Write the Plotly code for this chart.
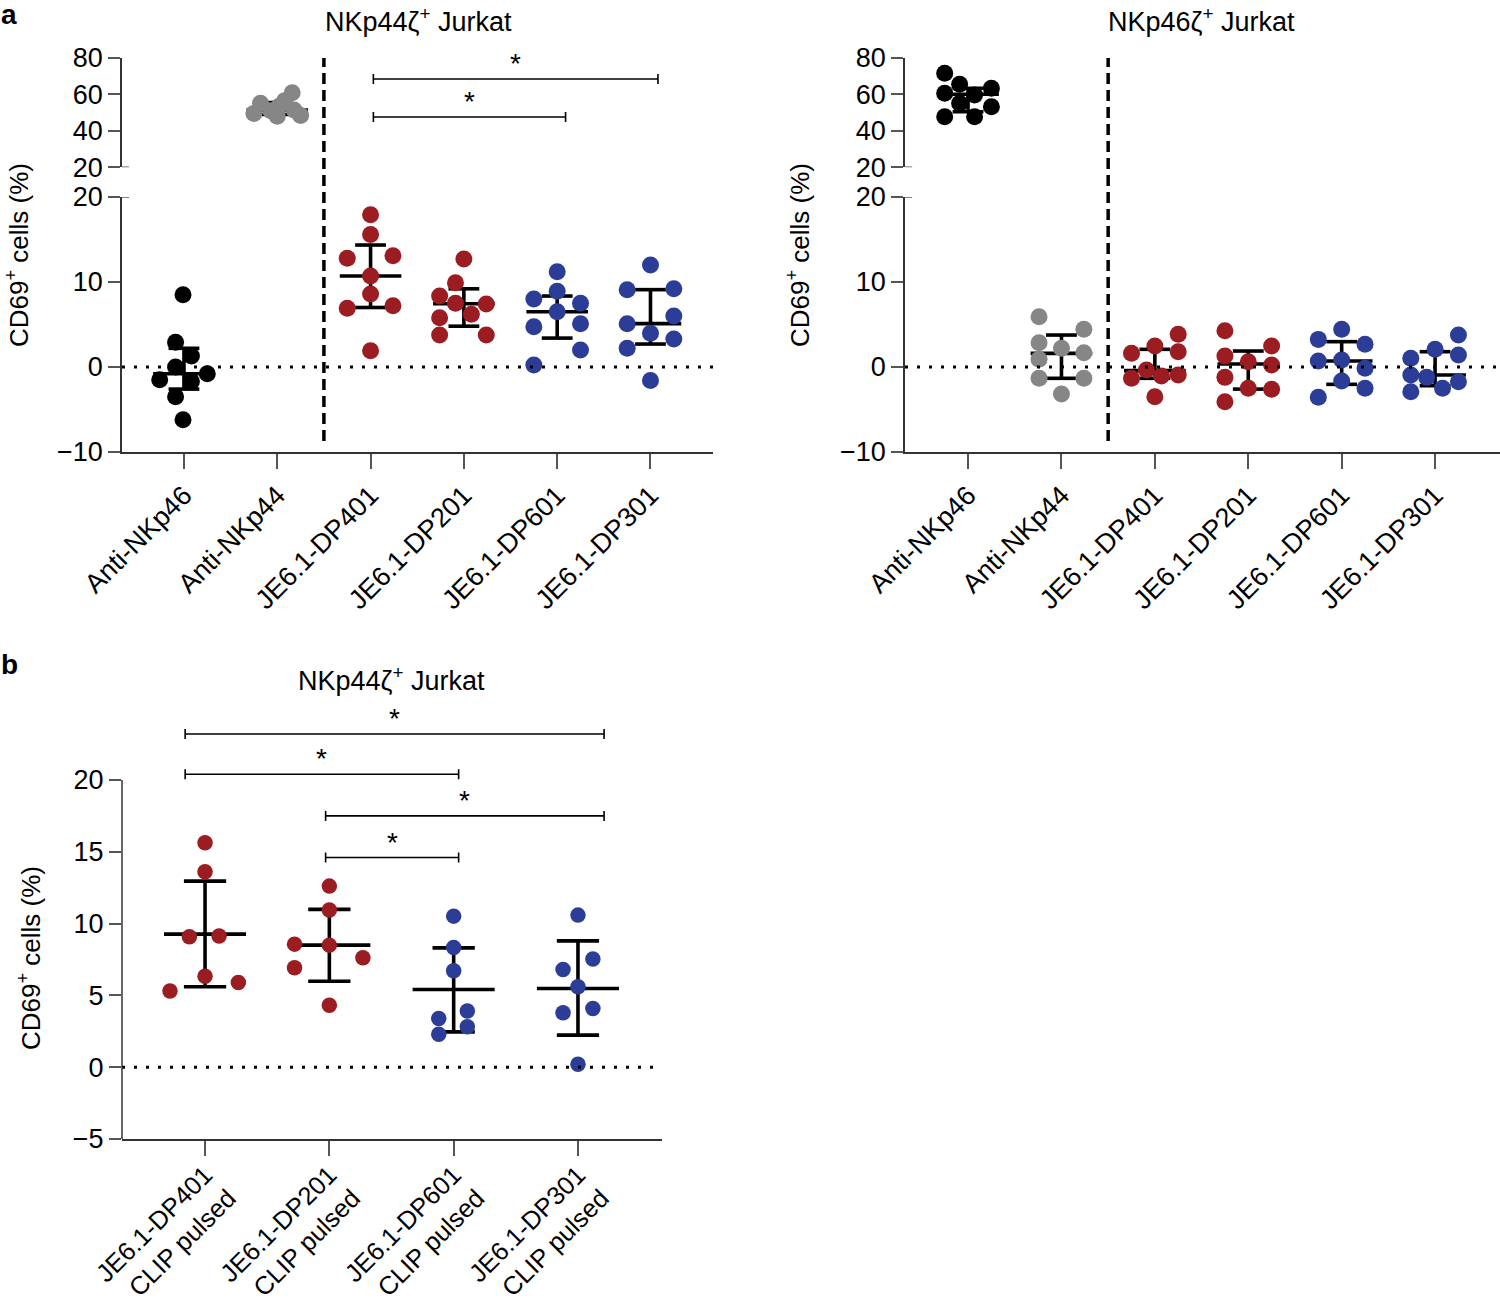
import plotly.graph_objects as go

W, H = 1500, 1301
FONT = "Liberation Sans"
RED = "#9b1c21"
BLUE = "#2c3d98"
GRAY = "#868686"
BLACK = "#000000"

# ---------------- data ----------------
cats_a = ["Anti-NKp46", "Anti-NKp44", "JE6.1-DP401", "JE6.1-DP201", "JE6.1-DP601", "JE6.1-DP301"]
colors_a = [BLACK, GRAY, RED, RED, BLUE, BLUE]

# NKp44zeta+ Jurkat (panel a, left)
nk44_vals = [
    [8.5, 2.9, 1.3, 0.0, -0.8, -1.5, -1.7, -3.5, -6.2],
    [60.9, 56.6, 55.1, 49.6, 51.0, 53.5, 48.0, 48.5, 51.4],
    [17.9, 15.6, 12.8, 13.1, 10.7, 8.6, 6.9, 7.2, 1.9],
    [12.7, 9.9, 8.35, 7.5, 7.4, 6.2, 5.8, 3.76, 3.76],
    [11.2, 8.9, 8.0, 7.5, 6.5, 4.74, 5.1, 2.0, 0.24],
    [12.0, 9.1, 9.2, 6.0, 5.1, 3.96, 3.3, 2.2, -1.6],
]
nk44_dx = [
    [-0.01, -0.09, 0.08, -0.09, 0.25, -0.26, 0.08, -0.09, -0.01],
    [0.16, 0.08, -0.18, -0.25, -0.07, 0.02, 0.0, 0.25, 0.18],
    [0.0, 0.0, -0.25, 0.24, 0.0, 0.0, -0.25, 0.24, 0.0],
    [0.0, -0.09, -0.26, -0.09, 0.24, 0.08, -0.26, -0.26, 0.24],
    [0.0, 0.0, -0.25, 0.25, 0.0, -0.25, 0.25, 0.25, -0.25],
    [0.0, -0.25, 0.25, 0.25, -0.25, 0.0, 0.25, -0.25, 0.0],
]
nk44_med = [-0.8, 51.4, 10.7, 7.45, 6.5, 5.1]
nk44_q1 = [-2.6, 49.0, 7.0, 4.8, 3.4, 2.7]
nk44_q3 = [2.2, 55.5, 14.35, 9.2, 8.35, 9.1]

# NKp46zeta+ Jurkat (panel a, right)
nk46_vals = [
    [71.6, 65.6, 60.6, 63.4, 59.7, 55.1, 53.3, 47.8, 47.8],
    [5.9, 4.43, 2.86, 2.2, 1.69, 0.9, -1.33, -1.33, -3.18],
    [3.84, 2.47, 1.61, 1.8, -0.35, -1.33, -1.06, -0.94, -3.49],
    [4.27, 2.47, 1.29, 0.63, 0.24, -1.22, -2.51, -2.63, -4.08],
    [4.43, 3.25, 2.67, 0.71, 0.82, -0.16, -1.65, -2.51, -3.57],
    [3.76, 2.08, 1.41, 1.02, -0.94, -1.22, -1.73, -2.9, -2.51],
]
nk46_dx = [
    [-0.25, -0.09, -0.25, 0.25, 0.07, -0.09, 0.25, -0.25, 0.07],
    [-0.24, 0.24, -0.24, 0.0, 0.24, -0.24, -0.24, 0.24, 0.0],
    [0.25, 0.0, -0.25, 0.25, -0.09, -0.25, 0.07, 0.25, 0.0],
    [-0.25, 0.25, -0.25, 0.0, 0.25, -0.25, 0.0, 0.25, -0.25],
    [0.0, -0.25, 0.25, -0.25, 0.0, 0.25, 0.0, 0.25, -0.25],
    [0.25, 0.0, 0.25, -0.26, -0.26, -0.09, 0.25, -0.26, 0.08],
]
nk46_med = [60.1, 1.6, -0.43, 0.35, 0.71, -0.94]
nk46_q1 = [50.5, -1.33, -1.33, -2.6, -2.04, -2.2]
nk46_q3 = [63.4, 3.76, 2.08, 1.88, 2.98, 1.8]

# panel b (NKp44zeta+ Jurkat, CLIP pulsed), mean +/- SD
cats_b = ["JE6.1-DP401<br>CLIP pulsed", "JE6.1-DP201<br>CLIP pulsed",
          "JE6.1-DP601<br>CLIP pulsed", "JE6.1-DP301<br>CLIP pulsed"]
colors_b = [RED, RED, BLUE, BLUE]
clip_vals = [
    [15.63, 13.61, 9.08, 9.13, 6.34, 5.9, 5.3],
    [12.61, 10.94, 8.57, 8.5, 7.62, 6.92, 4.32],
    [10.52, 8.34, 6.71, 3.92, 3.39, 2.81, 2.3],
    [10.59, 7.53, 6.81, 5.6, 4.09, 3.79, 0.21],
]
clip_dx = [
    [0.0, 0.0, -0.126, 0.113, 0.0, 0.268, -0.282],
    [0.0, 0.0, -0.28, 0.0, 0.27, -0.28, 0.0],
    [0.0, 0.0, 0.0, 0.11, -0.12, 0.11, -0.12],
    [0.0, 0.12, -0.12, 0.0, 0.12, -0.12, 0.0],
]
clip_mean = [9.27, 8.5, 5.41, 5.48]
clip_lo = [5.6, 5.99, 2.46, 2.23]
clip_hi = [12.96, 10.99, 8.31, 8.8]

# significance brackets: (x start, x end, level)
nk44_sig = [(2.03, 5.08, 68.5), (2.03, 4.09, 47.6)]
clip_sig = [(-0.16, 3.21, 23.2), (-0.16, 2.04, 20.4), (0.97, 3.21, 17.5), (0.97, 2.04, 14.6)]

# ---------------- layout geometry ----------------
def py(p):
    return 1 - p / H

def px(p):
    return p / W

dom_lo = [py(452), py(197)]
dom_up = [py(167.3), py(58)]
rng_lo = [-10, 20]
rng_up = [20, 80]
x1_dom = [px(122), px(713)]
x1_rng = [-0.664, 5.67]
x3_dom = [px(905), 1.0]
x3_rng = [-0.675, 5.695]
x5_dom = [px(122), px(662)]
x5_rng = [-0.668, 3.676]
y5_dom = [py(1139), py(700)]
y5_rng = [-5, 25.57]


def to_paper(v, dom, rng):
    return dom[0] + (v - rng[0]) / (rng[1] - rng[0]) * (dom[1] - dom[0])


def unit_px(dom, rng):
    return (dom[1] - dom[0]) * H / (rng[1] - rng[0])


fig = go.Figure()

HALF = 0.33
CAP = 0.165
LW = 3.6


def add_summary(center, lo, hi, xl, yl, xu, yu, half, cap):
    for i in range(len(center)):
        upper = (yu is not None) and center[i] > 20
        xa, ya = (xu, yu) if upper else (xl, yl)
        fig.add_trace(go.Scatter(
            x=[i - half, i + half, None, i - cap, i + cap, None, i - cap, i + cap, None, i, i],
            y=[center[i], center[i], None, hi[i], hi[i], None, lo[i], lo[i], None, lo[i], hi[i]],
            mode="lines", line=dict(color="black", width=LW),
            xaxis=xa, yaxis=ya, showlegend=False, hoverinfo="skip"))


def add_points(vals, dx, colors, xl, yl, xu, yu, size):
    for i in range(len(vals)):
        for upper in (False, True):
            xs = [i + d for d, v in zip(dx[i], vals[i]) if (v > 20) == upper]
            ys = [v for v in vals[i] if (v > 20) == upper]
            if not ys:
                continue
            xa, ya = (xu, yu) if upper else (xl, yl)
            fig.add_trace(go.Scatter(
                x=xs, y=ys, mode="markers",
                marker=dict(size=size, color=colors[i], line=dict(width=0)),
                xaxis=xa, yaxis=ya, cliponaxis=False, showlegend=False))


add_summary(nk44_med, nk44_q1, nk44_q3, "x", "y", "x2", "y2", HALF, CAP)
add_summary(nk46_med, nk46_q1, nk46_q3, "x3", "y3", "x4", "y4", HALF, CAP)
add_summary(clip_mean, clip_lo, clip_hi, "x5", "y5", None, None, HALF, 0.17)
add_points(nk44_vals, nk44_dx, colors_a, "x", "y", "x2", "y2", 17)
add_points(nk46_vals, nk46_dx, colors_a, "x3", "y3", "x4", "y4", 17)
add_points(clip_vals, clip_dx, colors_b, "x5", "y5", None, None, 15.5)

AX_COL = "#333333"
TICK_COL = "#555555"
TF = dict(family=FONT, size=27, color="black")
TF_B = dict(family=FONT, size=25.5, color="black")

common_y = dict(showgrid=False, zeroline=False, ticks="outside", ticklen=12, tickwidth=1.5,
                tickcolor=TICK_COL, linecolor=AX_COL, linewidth=1.5, tickfont=TF, automargin=False)
common_x = dict(showgrid=False, zeroline=False, ticks="outside", ticklen=15, tickwidth=1.5,
                tickcolor=TICK_COL, linecolor=AX_COL, linewidth=1.5, automargin=False,
                tickangle=-45)

fig.update_layout(
    xaxis=dict(domain=x1_dom, range=x1_rng, anchor="y", tickvals=list(range(6)), ticktext=cats_a,
               showline=True, tickfont=TF, **common_x),
    yaxis=dict(domain=dom_lo, range=rng_lo, anchor="x", tickvals=[-10, 0, 10, 20], showline=True, **common_y),
    xaxis2=dict(domain=x1_dom, range=x1_rng, anchor="y2", matches="x", visible=False),
    yaxis2=dict(domain=dom_up, range=rng_up, anchor="x2", tickvals=[20, 40, 60, 80], showline=True, **common_y),
    xaxis3=dict(domain=x3_dom, range=x3_rng, anchor="y3", tickvals=list(range(6)), ticktext=cats_a,
                showline=True, tickfont=TF, **common_x),
    yaxis3=dict(domain=dom_lo, range=rng_lo, anchor="x3", tickvals=[-10, 0, 10, 20], showline=True, **common_y),
    xaxis4=dict(domain=x3_dom, range=x3_rng, anchor="y4", matches="x3", visible=False),
    yaxis4=dict(domain=dom_up, range=rng_up, anchor="x4", tickvals=[20, 40, 60, 80], showline=True, **common_y),
    xaxis5=dict(domain=x5_dom, range=x5_rng, anchor="y5", tickvals=list(range(4)), ticktext=cats_b,
                showline=True, tickfont=TF_B, ticklabelstandoff=-6, **common_x),
    yaxis5=dict(domain=y5_dom, range=y5_rng, anchor="x5", tickvals=[-5, 0, 5, 10, 15, 20], showline=False,
                **common_y),
)

shapes = []
DOT = dict(color="black", width=3, dash="3px,9px")
# zero reference lines
for xr, yr, x1 in (("x domain", "y", 1.0), ("x3 domain", "y3", 1.0), ("x5 domain", "y5", 0.985)):
    shapes.append(dict(type="line", xref=xr, yref=yr, x0=0, x1=x1, y0=0, y1=0, line=DOT))
# dashed separators
for xr in ("x", "x3"):
    shapes.append(dict(type="line", xref=xr, yref="paper", x0=1.5, x1=1.5,
                       y0=to_paper(-8.7, dom_lo, rng_lo), y1=to_paper(80, dom_up, rng_up),
                       line=dict(color="black", width=3.5, dash="11px,6px")))
# axis break marks
for xr_lo, xr_up, yl, yu in (("x domain", "x2 domain", "y", "y2"), ("x3 domain", "x4 domain", "y3", "y4")):
    shapes.append(dict(type="line", xref=xr_lo, yref=yl, x0=0, x1=0.012, y0=20, y1=20,
                       line=dict(color=TICK_COL, width=1.5)))
    shapes.append(dict(type="line", xref=xr_up, yref=yu, x0=0, x1=0.012, y0=20, y1=20,
                       line=dict(color=TICK_COL, width=1.5)))
# panel b y axis line (only -5..20)
shapes.append(dict(type="line", xref="x5 domain", yref="y5", x0=0, x1=0, y0=-5, y1=20,
                   line=dict(color=AX_COL, width=1.5)))

annotations = []
BR = dict(color="black", width=1.6)


def add_brackets(sig, xr, yr, dom, rng):
    t = 5.0 / unit_px(dom, rng)
    for x0, x1, lvl in sig:
        shapes.append(dict(type="line", xref=xr, yref=yr, x0=x0, x1=x1, y0=lvl, y1=lvl, line=BR))
        for xe in (x0, x1):
            shapes.append(dict(type="line", xref=xr, yref=yr, x0=xe, x1=xe, y0=lvl - t, y1=lvl + t, line=BR))
        annotations.append(dict(x=(x0 + x1) / 2, y=lvl, xref=xr, yref=yr, text="*", showarrow=False,
                                xanchor="center", yanchor="bottom", yshift=-2,
                                font=dict(family=FONT, size=28, color="black")))


add_brackets(nk44_sig, "x2", "y2", dom_up, rng_up)
add_brackets(clip_sig, "x5", "y5", y5_dom, y5_rng)

TITLE_F = dict(family=FONT, size=27, color="black")
for txt, x, y in (("NKp44ζ<sup>+</sup> Jurkat", 418, 20), ("NKp46ζ<sup>+</sup> Jurkat", 1201, 20),
                  ("NKp44ζ<sup>+</sup> Jurkat", 391, 679)):
    annotations.append(dict(x=px(x), y=py(y), xref="paper", yref="paper", text=txt, showarrow=False,
                            xanchor="center", yanchor="middle", font=TITLE_F))
for x, y in ((17, 255), (798, 255), (29, 958)):
    annotations.append(dict(x=px(x), y=py(y), xref="paper", yref="paper", text="CD69<sup>+</sup> cells (%)",
                            showarrow=False, textangle=-90, xanchor="center", yanchor="middle",
                            borderpad=0, font=dict(family=FONT, size=26, color="black")))
for txt, x, y in (("a", 9, 15), ("b", 9, 664)):
    annotations.append(dict(x=px(x), y=py(y), xref="paper", yref="paper", text="<b>" + txt + "</b>",
                            showarrow=False, xanchor="center", yanchor="middle",
                            font=dict(family=FONT, size=28, color="black")))

fig.update_layout(
    width=W, height=H, margin=dict(l=0, r=0, t=0, b=0, pad=0),
    paper_bgcolor="white", plot_bgcolor="white", showlegend=False,
    shapes=shapes, annotations=annotations, font=dict(family=FONT, color="black"),
)

fig.write_html("out.html", config={"displayModeBar": False},
               post_script="document.body.style.margin='0px';")
